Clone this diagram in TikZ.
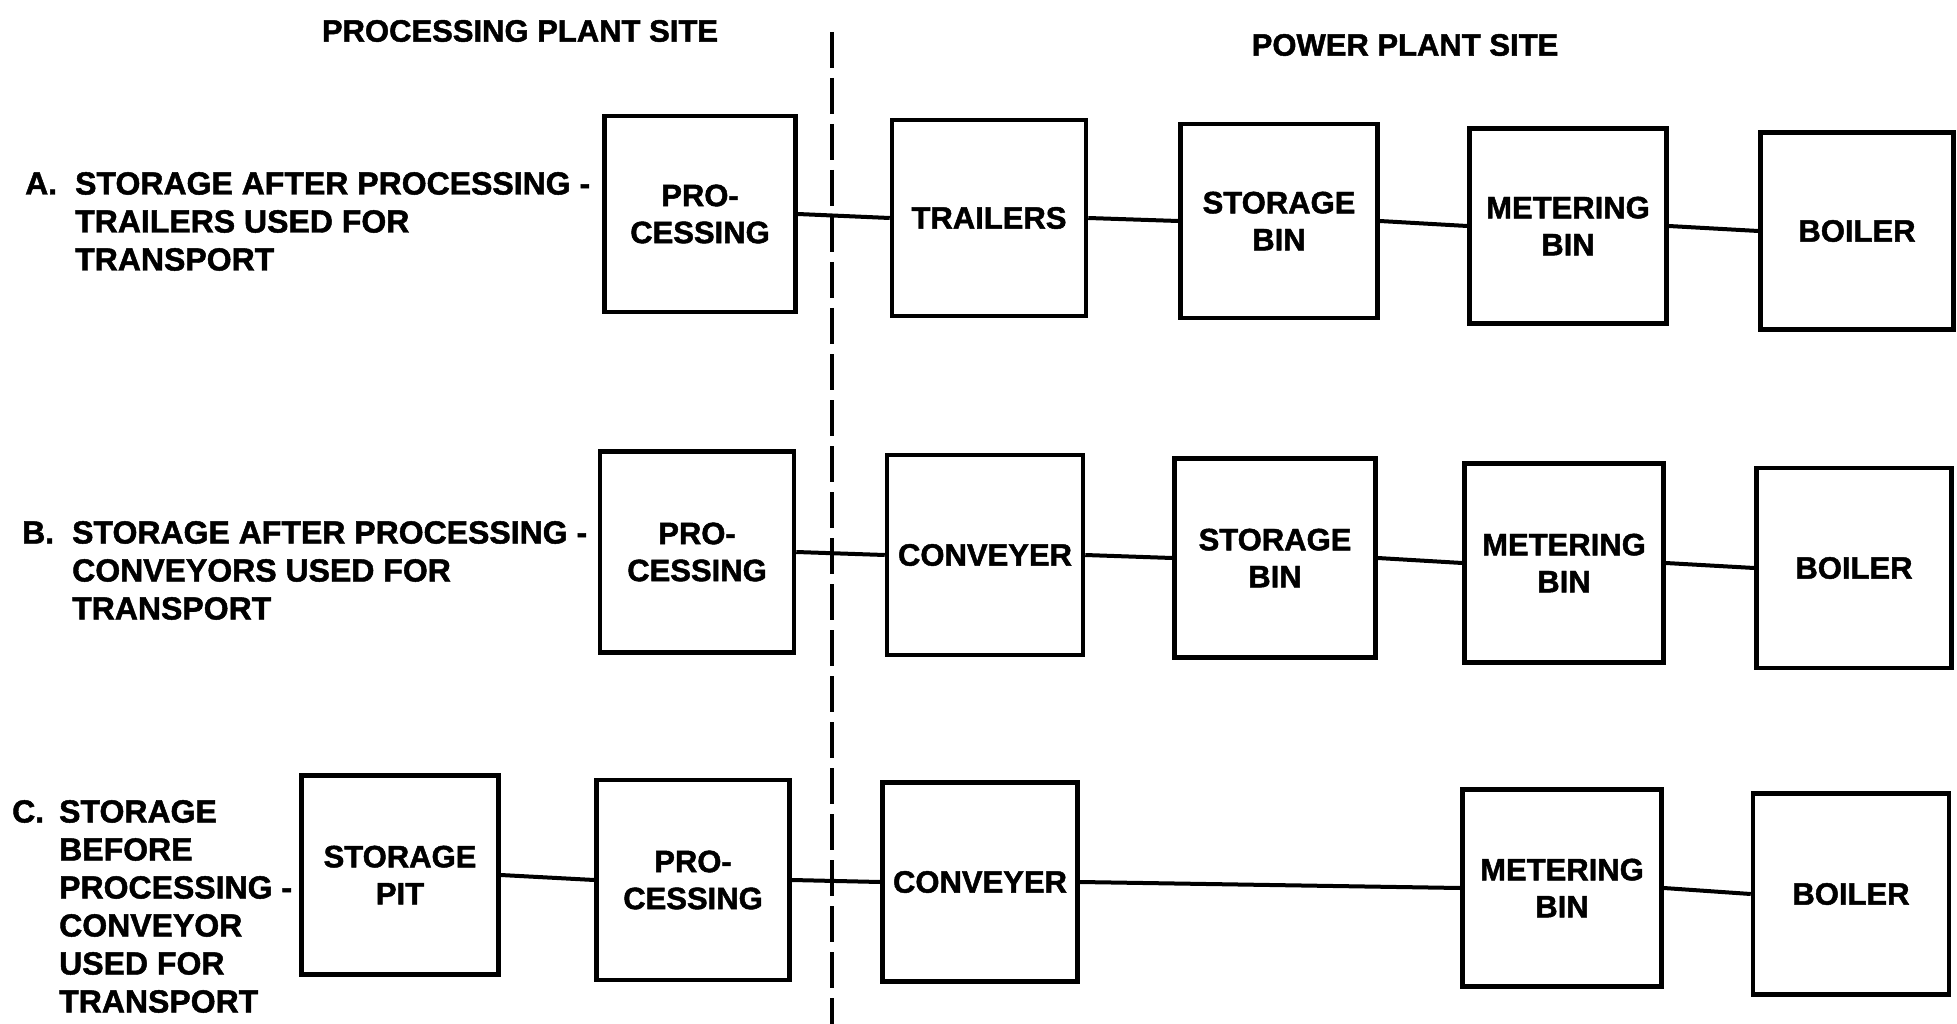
\documentclass[tikz,border=0pt]{standalone}
\usepackage{fontspec}
\setmainfont{Liberation Sans}[BoldFeatures={FakeBold=1.5}]
\newcommand\lblfont{\fontsize{32}{38}\selectfont\bfseries}
\newcommand\bxfont{\fontsize{31}{37}\selectfont\bfseries}
\newcommand\ttlfont{\fontsize{31}{37}\selectfont\bfseries}
\begin{document}
\begin{tikzpicture}[x=1pt,y=-1pt,
  box/.style={draw, line width=4.5pt, inner sep=0pt, align=center, font=\bxfont},
  conn/.style={line width=4pt},
  lbl/.style={inner sep=0pt, anchor=base west, font=\lblfont},
  ttl/.style={inner sep=0pt, font=\ttlfont},
  divider/.style={line width=4pt, dash pattern=on 36pt off 10pt}]
\useasboundingbox[fill=white] (0,0) rectangle (1957,1024);

% titles
\node[ttl] (t1) at (520,31) {PROCESSING PLANT SITE};
\node[ttl] (t2) at (1405,45) {POWER PLANT SITE};

% divider
\coordinate (d1) at (832,32);
\coordinate (d2) at (832,1024);
\draw[divider] (d1) -- (d2);

% row labels
\node[lbl] (la) at (25,194.5) {\begin{tabular}[t]{@{}p{50pt}@{}l@{}}A. & STORAGE AFTER PROCESSING -\\ & TRAILERS USED FOR\\ & TRANSPORT\end{tabular}};
\node[lbl] (lb) at (22,543.5) {\begin{tabular}[t]{@{}p{50pt}@{}l@{}}B. & STORAGE AFTER PROCESSING -\\ & CONVEYORS USED FOR\\ & TRANSPORT\end{tabular}};
\node[lbl] (lc) at (12,822.5) {\begin{tabular}[t]{@{}p{47pt}@{}l@{}}C. & STORAGE\\ & BEFORE\\ & PROCESSING -\\ & CONVEYOR\\ & USED FOR\\ & TRANSPORT\end{tabular}};

% row A
\node[box, minimum width=191pt, minimum height=196pt] (pA) at (700,214) {PRO-\\CESSING};
\node[box, minimum width=194pt, minimum height=196pt] (tA) at (989,218) {TRAILERS};
\node[box, minimum width=197pt, minimum height=194pt] (sA) at (1279,221) {STORAGE\\BIN};
\node[box, minimum width=197pt, minimum height=195pt] (mA) at (1568,226) {METERING\\BIN};
\node[box, minimum width=193pt, minimum height=197pt] (bA) at (1857,231) {BOILER};

% row B
\node[box, minimum width=194pt, minimum height=201pt] (pB) at (697,552) {PRO-\\CESSING};
\node[box, minimum width=196pt, minimum height=200pt] (cB) at (985,555) {CONVEYER};
\node[box, minimum width=201pt, minimum height=199pt] (sB) at (1275,558) {STORAGE\\BIN};
\node[box, minimum width=199pt, minimum height=199pt] (mB) at (1564,563) {METERING\\BIN};
\node[box, minimum width=195pt, minimum height=200pt] (bB) at (1854,568) {BOILER};

% row C
\node[box, minimum width=197pt, minimum height=199pt] (spC) at (400,875) {STORAGE\\PIT};
\node[box, minimum width=193pt, minimum height=200pt] (pC) at (693,880) {PRO-\\CESSING};
\node[box, minimum width=195pt, minimum height=199pt] (cC) at (980,882) {CONVEYER};
\node[box, minimum width=199pt, minimum height=197pt] (mC) at (1562,888) {METERING\\BIN};
\node[box, minimum width=196pt, minimum height=201pt] (bC) at (1851,894) {BOILER};

% connectors
\draw[conn] (pA.east) -- (tA.west);
\draw[conn] (tA.east) -- (sA.west);
\draw[conn] (sA.east) -- (mA.west);
\draw[conn] (mA.east) -- (bA.west);
\draw[conn] (pB.east) -- (cB.west);
\draw[conn] (cB.east) -- (sB.west);
\draw[conn] (sB.east) -- (mB.west);
\draw[conn] (mB.east) -- (bB.west);
\draw[conn] (spC.east) -- (pC.west);
\draw[conn] (pC.east) -- (cC.west);
\draw[conn] (cC.east) -- (mC.west);
\draw[conn] (mC.east) -- (bC.west);
\end{tikzpicture}
\end{document}
